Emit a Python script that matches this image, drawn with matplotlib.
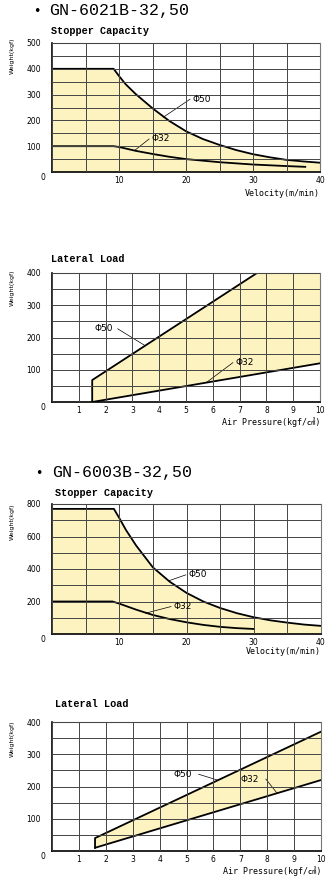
import matplotlib as mpl
mpl.use('Agg')
import matplotlib.pyplot as plt

# GN-6021B stopper capacity (velocity m/min -> weight kgf)
v50_a = [0, 9.2, 10, 11, 12.5, 15, 17.5, 20, 22.5, 25, 27.5, 30, 32.5, 35, 37.5, 40]
w50_a = [400, 400, 372, 340, 302, 247, 198, 158, 128, 105, 85, 69, 57, 47, 41, 36]
v32_a = [0, 9.2, 10, 12.5, 15, 17.5, 20, 25, 30, 35, 37.8]
w32_a = [100, 100, 97, 82, 70, 59, 50, 38, 29, 23, 20]

# GN-6021B lateral load (air pressure -> weight)
p50_a = [1.5, 1.5, 7.65]
l50_a = [0, 68, 400]
p32_a = [1.5, 10]
l32_a = [0, 120]

# GN-6003B stopper capacity
v50_b = [0, 9.2, 10, 11, 12.5, 15, 17.5, 20, 22.5, 25, 27.5, 30, 32.5, 35, 37.5, 40]
w50_b = [770, 770, 714, 640, 545, 410, 322, 253, 200, 160, 128, 103, 84, 70, 58, 50]
v32_b = [0, 9, 10, 12.5, 15, 17.5, 20, 22.5, 25, 27.5, 30]
w32_b = [200, 200, 187, 150, 117, 92, 72, 56, 44, 36, 31]

# GN-6003B lateral load
p50_b = [1.6, 1.6, 10]
l50_b = [10, 40, 370]
p32_b = [1.6, 10]
l32_b = [10, 220]

vel_ticks = [0, 10, 20, 30, 40]
prs_ticks = list(range(0, 11))

FILL = '#fdf3c0'
GRID = '#444444'
W, H = 332, 877
TICKFONT = dict(fontsize=5.5, family='DejaVu Sans')
LBLFONT = ['DejaVu Sans Mono', 'Noto Sans CJK JP']


def make_ax(fig, left, top, right, bottom):
    ax = fig.add_axes([left / W, 1 - bottom / H, (right - left) / W, (bottom - top) / H])
    for s in ['left', 'bottom']:
        ax.spines[s].set_linewidth(1.2)
        ax.spines[s].set_color('black')
    for s in ['top', 'right']:
        ax.spines[s].set_linewidth(0.8)
        ax.spines[s].set_color('#777777')
    ax.tick_params(which='both', length=0)
    ax.tick_params(axis='y', pad=8)
    ax.tick_params(axis='x', pad=3)
    ax.grid(True, which='both', color=GRID, lw=0.7)
    ax.set_axisbelow(False)
    ax.text(-0.035, -0.045, '0', transform=ax.transAxes, ha='center', va='center', **TICKFONT)
    return ax


def set_ticks(ax, xmax, xmajor, xminor, ymax, ymajor, yminor):
    ax.set_xlim(0, xmax)
    ax.set_ylim(0, ymax)
    ax.set_xticks(xmajor)
    ax.set_xticklabels(['' if t == 0 else str(t) for t in xmajor], **TICKFONT)
    ax.set_xticks(xminor, minor=True)
    yt = list(range(ymajor, ymax + 1, ymajor))
    ax.set_yticks(yt)
    ax.set_yticklabels([str(t) for t in yt], **TICKFONT)
    ax.set_yticks(list(range(0, ymax + 1, yminor)), minor=True)


def label(ax, txt, tx, ty, sx, sy, lx, ly):
    # phi label plus thin leader line to its curve
    ax.text(tx, ty, txt, fontsize=6.5, ha='left', va='center', family='DejaVu Sans')
    ax.plot([sx, lx], [sy, ly], color='black', lw=0.5)


fig = plt.figure(figsize=(3.32, 8.77), dpi=100)

# ---------- GN-6021B ----------
fig.text(33 / W, 1 - 11 / H, '\u2022', fontsize=9, va='center', ha='left')
fig.text(49 / W, 1 - 11 / H, 'GN-6021B-32,50', fontsize=12, family='Liberation Mono', va='center', ha='left')
fig.text(51 / W, 1 - 31 / H, 'Stopper Capacity', fontsize=7.3, family='Liberation Mono', weight='bold', va='center')

ax1 = make_ax(fig, 52, 43, 320, 172)
ax1.fill_between(v50_a, w50_a, 0, color=FILL, zorder=0.5, lw=0)
ax1.plot(v50_a, w50_a, color='black', lw=1.3)
ax1.plot(v32_a, w32_a, color='black', lw=1.3)
set_ticks(ax1, 40, vel_ticks, list(range(0, 41, 5)), 500, 100, 50)
label(ax1, '\u03a650', 21.0, 282, 20.6, 282, 16.6, 212)
label(ax1, '\u03a632', 14.9, 130, 14.5, 128, 12.4, 85)
fig.text(320 / W, 1 - 193 / H, 'Velocity(m/min)', fontsize=6, family=LBLFONT, ha='right', va='center')
fig.text(12 / W, 1 - 56 / H, 'Weight(kgf)', fontsize=4.5, rotation=90, ha='center', va='center')

fig.text(51 / W, 1 - 259 / H, 'Lateral Load', fontsize=7.3, family='Liberation Mono', weight='bold', va='center')
ax2 = make_ax(fig, 52, 273, 320, 402)
ax2.fill(p50_a + [10, p32_a[1]], l50_a + [400, l32_a[1]], color=FILL, zorder=0.5, lw=0)
ax2.plot(p50_a, l50_a, color='black', lw=1.3)
ax2.plot(p32_a, l32_a, color='black', lw=1.3)
set_ticks(ax2, 10, prs_ticks, prs_ticks, 400, 100, 50)
label(ax2, '\u03a650', 1.6, 227, 2.45, 227, 3.45, 176)
label(ax2, '\u03a632', 6.85, 124, 6.75, 122, 5.77, 61)
fig.text(320 / W, 1 - 422 / H, 'Air Pressure(kgf/\u33a0)', fontsize=6, family=LBLFONT, ha='right', va='center')
fig.text(12 / W, 1 - 288 / H, 'Weight(kgf)', fontsize=4.5, rotation=90, ha='center', va='center')

# ---------- GN-6003B ----------
fig.text(35 / W, 1 - 473 / H, '\u2022', fontsize=9, va='center', ha='left')
fig.text(52 / W, 1 - 473 / H, 'GN-6003B-32,50', fontsize=12, family='Liberation Mono', va='center', ha='left')
fig.text(55 / W, 1 - 493 / H, 'Stopper Capacity', fontsize=7.3, family='Liberation Mono', weight='bold', va='center')

ax3 = make_ax(fig, 52, 504, 321, 634)
ax3.fill_between(v50_b, w50_b, 0, color=FILL, zorder=0.5, lw=0)
ax3.plot(v50_b, w50_b, color='black', lw=1.3)
ax3.plot(v32_b, w32_b, color='black', lw=1.3)
set_ticks(ax3, 40, vel_ticks, list(range(0, 41, 5)), 800, 200, 100)
label(ax3, '\u03a650', 20.3, 364, 19.9, 364, 17.4, 328)
label(ax3, '\u03a632', 18.1, 169, 17.7, 169, 13.9, 128)
fig.text(321 / W, 1 - 652 / H, 'Velocity(m/min)', fontsize=6, family=LBLFONT, ha='right', va='center')
fig.text(12 / W, 1 - 522 / H, 'Weight(kgf)', fontsize=4.5, rotation=90, ha='center', va='center')

fig.text(55 / W, 1 - 704 / H, 'Lateral Load', fontsize=7.3, family='Liberation Mono', weight='bold', va='center')
ax4 = make_ax(fig, 52, 722, 321, 851)
ax4.fill(p50_b + p32_b[::-1], l50_b + l32_b[::-1], color=FILL, zorder=0.5, lw=0)
ax4.plot(p50_b, l50_b, color='black', lw=1.3)
ax4.plot(p32_b, l32_b, color='black', lw=1.3)
set_ticks(ax4, 10, prs_ticks, prs_ticks, 400, 100, 50)
label(ax4, '\u03a650', 4.5, 236, 5.45, 238, 6.15, 220)
label(ax4, '\u03a632', 7.0, 223, 7.95, 223, 8.36, 180)
fig.text(321 / W, 1 - 871 / H, 'Air Pressure(kgf/\u33a0)', fontsize=6, family=LBLFONT, ha='right', va='center')
fig.text(12 / W, 1 - 739 / H, 'Weight(kgf)', fontsize=4.5, rotation=90, ha='center', va='center')

plt.savefig('out.png', dpi=100)
